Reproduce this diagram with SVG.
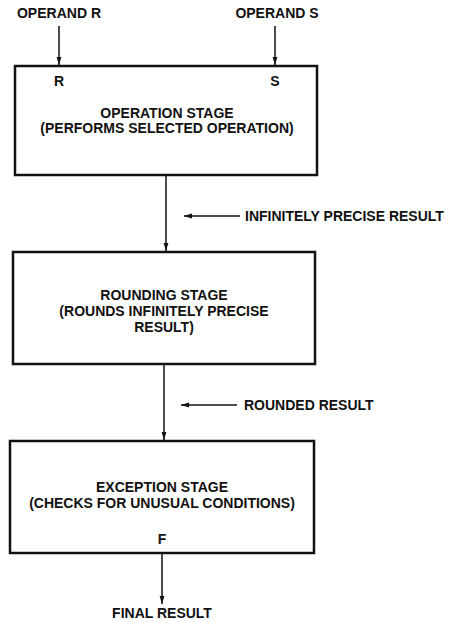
<svg xmlns="http://www.w3.org/2000/svg" width="450" height="623" viewBox="0 0 450 623">
<style>
text{font-family:"Liberation Sans",Arial,sans-serif;font-weight:bold;font-size:14px;fill:#111}
.box{fill:#fff;stroke:#111;stroke-width:2.5}
.ln{stroke:#111;stroke-width:1.5;fill:none}
.mid{text-anchor:middle}
</style>
<defs>
<marker id="ah" viewBox="0 0 10 10" refX="10" refY="5" markerWidth="8" markerHeight="8" markerUnits="userSpaceOnUse" orient="auto">
<path d="M0,2 L10,5 L0,8 z" fill="#111"/>
</marker>
</defs>
<rect width="450" height="623" fill="#fff"/>
<g id="connectors">
<line class="ln" x1="59" y1="26" x2="59" y2="65" marker-end="url(#ah)"/>
<line class="ln" x1="275" y1="26" x2="275" y2="65" marker-end="url(#ah)"/>
<line class="ln" x1="166" y1="176" x2="166" y2="251" marker-end="url(#ah)"/>
<line class="ln" x1="240" y1="216" x2="184" y2="216" marker-end="url(#ah)"/>
<line class="ln" x1="164" y1="365" x2="164" y2="440" marker-end="url(#ah)"/>
<line class="ln" x1="237" y1="405" x2="181" y2="405" marker-end="url(#ah)"/>
<line class="ln" x1="162" y1="554" x2="162" y2="604" marker-end="url(#ah)"/>
</g>
<g id="operandR"><text x="59" y="18" class="mid">OPERAND R</text></g>
<g id="operandS"><text x="277" y="18" class="mid">OPERAND S</text></g>
<g id="operation">
<rect class="box" x="15" y="66" width="302" height="109"/>
<text x="59" y="86" class="mid">R</text>
<text x="275" y="86" class="mid">S</text>
<text x="167" y="118" class="mid">OPERATION STAGE</text>
<text x="167" y="133" class="mid">(PERFORMS SELECTED OPERATION)</text>
</g>
<g id="infinitely"><text x="245" y="221">INFINITELY PRECISE RESULT</text></g>
<g id="rounding">
<rect class="box" x="13" y="252" width="302" height="112"/>
<text x="164" y="300" class="mid">ROUNDING STAGE</text>
<text x="164" y="316" class="mid">(ROUNDS INFINITELY PRECISE</text>
<text x="164" y="332" class="mid">RESULT)</text>
</g>
<g id="rounded"><text x="244" y="410">ROUNDED RESULT</text></g>
<g id="exception">
<rect class="box" x="10" y="441" width="304" height="112"/>
<text x="162" y="492" class="mid">EXCEPTION STAGE</text>
<text x="162" y="508" class="mid">(CHECKS FOR UNUSUAL CONDITIONS)</text>
<text x="162" y="544" class="mid">F</text>
</g>
<g id="final"><text x="162" y="618" class="mid">FINAL RESULT</text></g>
</svg>
